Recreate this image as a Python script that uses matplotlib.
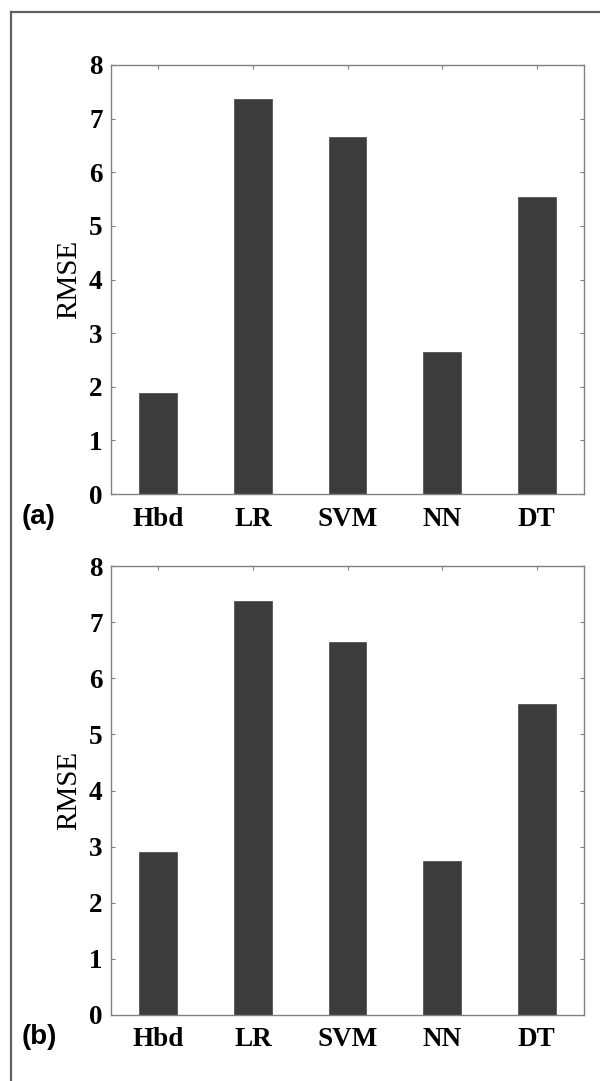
import matplotlib
matplotlib.use("Agg")
import matplotlib.pyplot as plt

categories = ["Hbd", "LR", "SVM", "NN", "DT"]
rmse_a = [1.89, 7.37, 6.65, 2.65, 5.53]
rmse_b = [2.90, 7.37, 6.64, 2.75, 5.54]
yticks = [0, 1, 2, 3, 4, 5, 6, 7, 8]
panel_labels = ["(a)", "(b)"]

W, H = 600, 1081
fig = plt.figure(figsize=(W / 100, H / 100), dpi=100)

# outer frame (left and top lines)
fig.add_artist(plt.Line2D([11 / W, 11 / W], [0, 1 - 12 / H], color="#606060", lw=1.6,
                          transform=fig.transFigure))
fig.add_artist(plt.Line2D([11 / W, 1], [1 - 12 / H, 1 - 12 / H], color="#606060", lw=1.6,
                          transform=fig.transFigure))

boxes = [(111, 65, 584, 494), (111, 566, 584, 1015)]
label_y = [517, 1037]

serif = ["Liberation Serif", "DejaVu Serif"]
xs = list(range(1, len(categories) + 1))

for (x0, y0, x1, y1), vals, lab, ly in zip(boxes, [rmse_a, rmse_b], panel_labels, label_y):
    ax = fig.add_axes([x0 / W, 1 - y1 / H, (x1 - x0) / W, (y1 - y0) / H])
    ax.bar(xs, vals, width=0.4, color="#3c3c3c", edgecolor="#555555", linewidth=0.6, zorder=2)
    ax.set_xlim(0.5, 5.5)
    ax.set_ylim(0, 8)
    ax.set_xticks(xs)
    ax.set_xticklabels(categories)
    ax.set_yticks(yticks)
    ax.set_yticklabels([str(t) for t in yticks])
    for lbl in ax.get_xticklabels() + ax.get_yticklabels():
        lbl.set_fontfamily(serif)
        lbl.set_fontweight("bold")
        lbl.set_fontsize(19.5)
    ax.tick_params(direction="in", length=3, width=0.8, color="#808080",
                   top=True, right=True)
    ax.tick_params(axis="x", pad=9)
    ax.tick_params(axis="y", pad=6)
    for s in ax.spines.values():
        s.set_color("#808080")
        s.set_linewidth(1.0)
    ax.set_ylabel("RMSE", fontfamily=serif, fontsize=21, labelpad=5)
    fig.text(22 / W, 1 - ly / H, lab, fontfamily=["Liberation Sans", "DejaVu Sans"],
             fontweight="bold", fontsize=20, ha="left", va="center")

fig.savefig("out.png", dpi=100)
